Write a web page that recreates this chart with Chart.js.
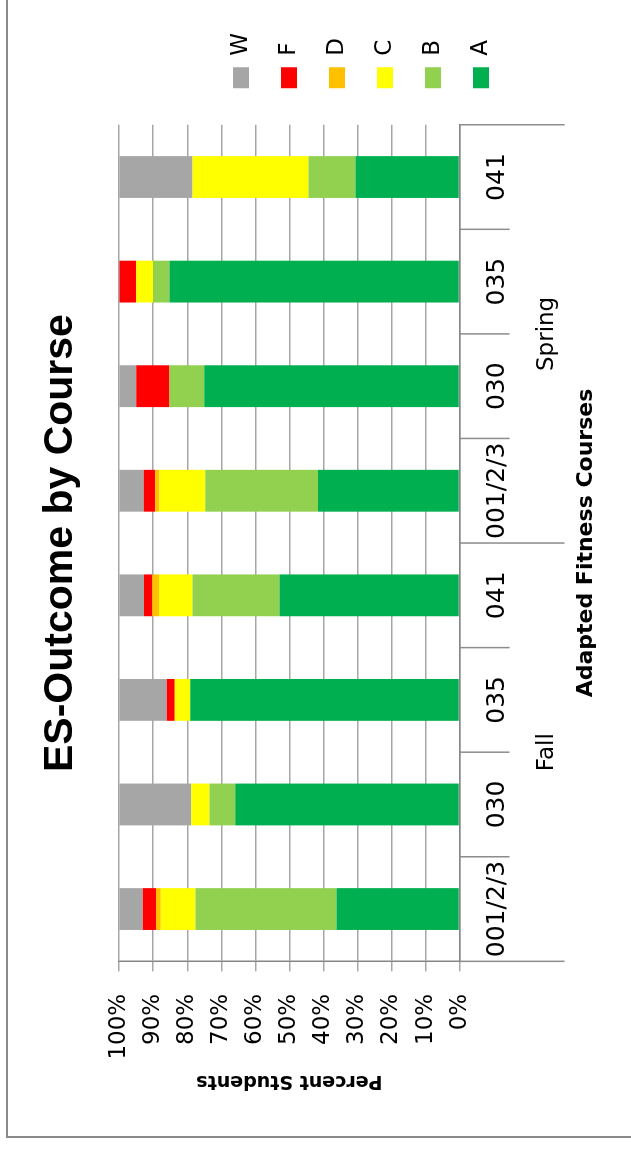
<!DOCTYPE html>
<html>
<head>
<meta charset="utf-8">
<title>ES-Outcome by Course</title>
<script src="https://cdn.jsdelivr.net/npm/chart.js@4.4.1/dist/chart.umd.min.js"></script>
<style>
  html, body { margin: 0; padding: 0; background: #fff; overflow: hidden; }
  body { width: 631px; height: 1149px; position: relative; }
  #frame { position: absolute; left: 6px; top: -10px; width: 700px; height: 1148px; box-sizing: border-box; border: 2px solid #8a8a8a; }
  /* the chart is drawn landscape and turned a quarter to the left */
  #wrap { position: absolute; left: 0; top: 0; width: 1149px; height: 631px; transform-origin: 0 0; transform: translateY(1149px) rotate(-90deg); }
</style>
</head>
<body>
<div id="frame"></div>
<div id="wrap"><canvas id="myChart" width="1149" height="631"></canvas></div>
<script>
const courses = ["001/2/3", "030", "035", "041", "001/2/3", "030", "035", "041"];
const terms = ["Fall", "Spring"];
const termSize = 4;

// percent of students per grade, Fall then Spring
const gradeA = [36.2, 65.9, 79.1, 52.9, 41.6, 75.0, 85.2, 30.6];
const gradeB = [41.4, 7.6, 0, 25.6, 33.1, 10.2, 4.9, 13.8];
const gradeC = [10.2, 5.3, 4.6, 9.8, 13.5, 0, 4.9, 34.1];
const gradeD = [1.4, 0, 0, 2.0, 1.2, 0, 0, 0];
const gradeF = [3.9, 0, 2.3, 2.4, 3.4, 9.8, 5.0, 0];
const gradeW = [6.9, 21.2, 14.0, 7.3, 7.2, 5.0, 0, 21.5];

const grades = ["A", "B", "C", "D", "F", "W"];
const gradeColors = ["#00b050", "#92d050", "#ffff00", "#ffc000", "#ff0000", "#a6a6a6"];
const gradeData = [gradeA, gradeB, gradeC, gradeD, gradeF, gradeW];

Chart.defaults.color = "#000";
Chart.defaults.font.family = '"DejaVu Sans", sans-serif';

// course separators under the axis and the Fall / Spring labels
const courseGroups = {
  id: "courseGroups",
  afterDraw(chart) {
    const { ctx, scales: { x } } = chart;
    const top = x.top;
    ctx.save();
    ctx.strokeStyle = "#8c8c8c";
    ctx.lineWidth = 1.5;
    for (let i = 0; i <= courses.length; i++) {
      const px = x.getPixelForValue(i - 0.5);
      const len = i % termSize === 0 ? 105 : 50;
      ctx.beginPath();
      ctx.moveTo(px, top);
      ctx.lineTo(px, top + len);
      ctx.stroke();
    }
    ctx.fillStyle = "#000";
    ctx.font = '23px "DejaVu Sans"';
    ctx.textAlign = "center";
    ctx.textBaseline = "middle";
    terms.forEach((t, j) => {
      const mid = x.getPixelForValue(j * termSize + (termSize - 1) / 2);
      ctx.fillText(t, mid, top + 87);
    });
    ctx.restore();
  },
};

const ctx = document.getElementById("myChart").getContext("2d");
const myChart = new Chart(ctx, {
  type: "bar",
  data: {
    labels: courses,
    datasets: grades.map((g, i) => ({
      label: g,
      data: gradeData[i],
      backgroundColor: gradeColors[i],
      borderWidth: 0,
      barPercentage: 0.4,
      categoryPercentage: 1,
    })),
  },
  options: {
    responsive: false,
    animation: false,
    layout: { padding: { right: 23 } },
    scales: {
      x: {
        stacked: true,
        grid: { display: false, drawTicks: false },
        border: { display: true, color: "#868686", width: 1.5 },
        ticks: { font: { size: 25 }, padding: 23, maxRotation: 0, autoSkip: false },
        title: {
          display: true,
          text: "Adapted Fitness Courses",
          font: { size: 22, weight: "bold" },
          padding: { top: 37, bottom: 32 },
        },
      },
      y: {
        stacked: true,
        min: 0,
        max: 100,
        ticks: { stepSize: 10, callback: (v) => v + "%", font: { size: 23 }, padding: 22.5 },
        grid: { color: "#a6a6a6", lineWidth: 1.5, tickLength: 10 },
        border: { color: "#868686", width: 1.5 },
        title: {
          display: true,
          text: "Percent Students",
          font: { size: 19, weight: "bold" },
          padding: { top: 57, bottom: 0 },
        },
      },
      pad: {
        position: "right",
        display: true,
        grid: { display: false },
        ticks: { display: false },
        border: { display: false },
        afterFit: (s) => { s.width = 11.5; },
      },
    },
    plugins: {
      title: {
        display: true,
        fullSize: false,
        text: "ES-Outcome by Course",
        font: { family: '"Liberation Sans", Arial, sans-serif', size: 41, weight: "bold" },
        padding: { top: 36, bottom: 34 },
      },
      legend: {
        position: "right",
        reverse: true,
        align: "center",
        title: { display: true, text: "", font: { size: 10 }, padding: { top: 0, bottom: 79 } },
        labels: { font: { size: 23 }, boxWidth: 21, boxHeight: 16, padding: 25 },
      },
      tooltip: { enabled: false },
    },
  },
  plugins: [courseGroups],
});
</script>
</body>
</html>
